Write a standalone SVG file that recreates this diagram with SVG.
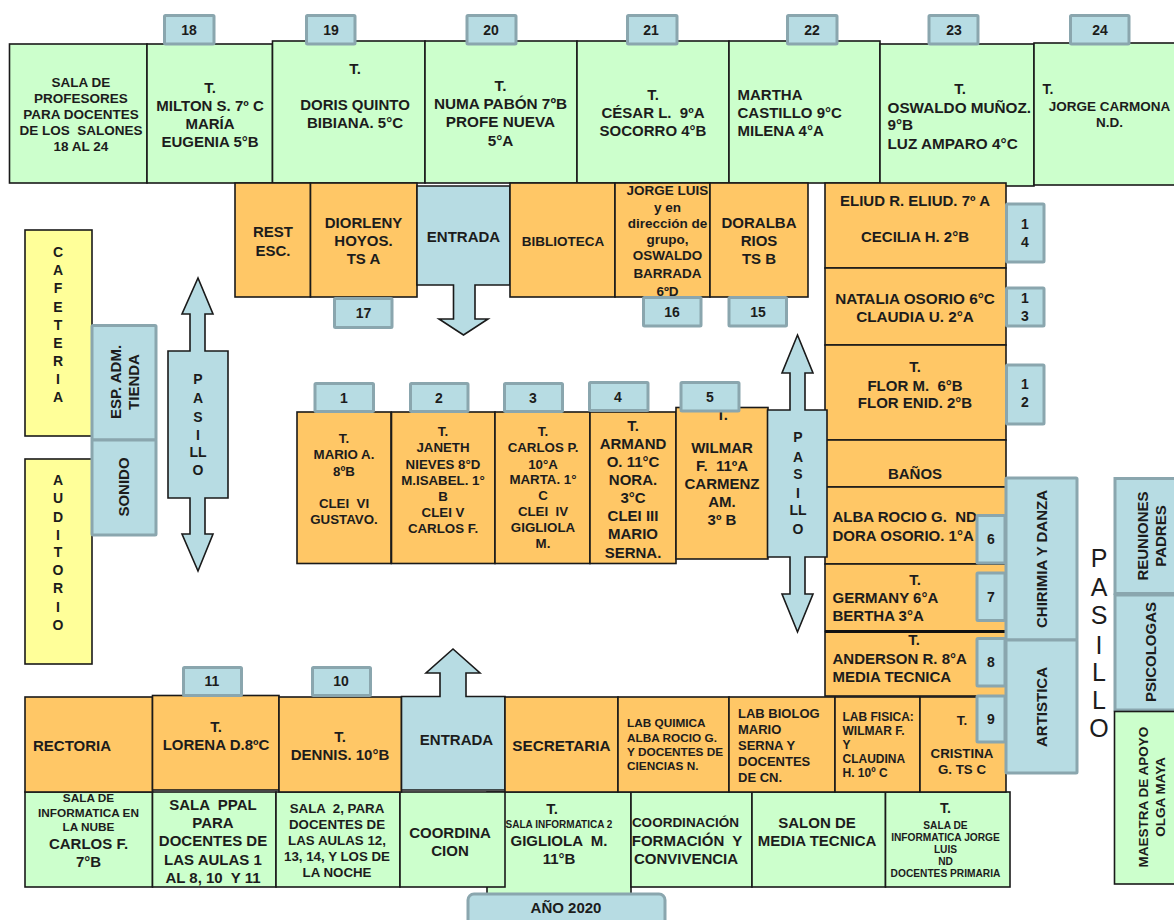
<svg xmlns="http://www.w3.org/2000/svg" width="1174" height="920" viewBox="0 0 1174 920">
<style>
text{font-family:"Liberation Sans",Arial,sans-serif;font-weight:bold;fill:#1c1c1c;dominant-baseline:central;white-space:pre}
.m{text-anchor:middle}
.g{fill:#ccffcc;stroke:#1a1a1a;stroke-width:1.6}
.o{fill:#ffc766;stroke:#1a1a1a;stroke-width:1.6}
.b{fill:#b7dce3;stroke:#1a1a1a;stroke-width:1.6}
.y{fill:#ffff99;stroke:#1a1a1a;stroke-width:1.6}
.tab{fill:#b7dce3;stroke:#8aa6ae;stroke-width:3}
.s10{font-size:10px}.s102{font-size:10.2px}.s118{font-size:11.8px}.s12{font-size:12px}.s13{font-size:13px}.s133{font-size:13.3px}.s135{font-size:13.5px}.s14{font-size:14px}.s15{font-size:15px}.s153{font-size:15.3px}
.big{font-size:25px;font-weight:normal}
</style>

<g id="sala-18-24"><rect class="g" x="9.5" y="44" width="137.5" height="139"/><text class="m s135"><tspan x="81" y="82">SALA DE</tspan><tspan x="81" y="98">PROFESORES</tspan><tspan x="81" y="114">PARA DOCENTES</tspan><tspan x="81" y="130">DE LOS  SALONES</tspan><tspan x="81" y="146">18 AL 24</tspan></text></g>
<g id="aula-18"><rect class="g" x="147" y="44" width="125.5" height="139"/><text class="m s15"><tspan x="210" y="87">T.</tspan><tspan x="210" y="105">MILTON S. 7º C</tspan><tspan x="210" y="123">MARÍA</tspan><tspan x="210" y="141">EUGENIA 5°B</tspan></text></g>
<g id="aula-19"><rect class="g" x="272.5" y="41" width="152.5" height="142"/><text class="m s15"><tspan x="355" y="68">T.</tspan><tspan x="355" y="104">DORIS QUINTO</tspan><tspan x="355" y="122">BIBIANA. 5°C</tspan></text></g>
<g id="aula-20"><rect class="g" x="425" y="41" width="152" height="142"/><text class="m s153"><tspan x="500.5" y="85">T.</tspan><tspan x="500.5" y="103">NUMA PABÓN 7ºB</tspan><tspan x="500.5" y="121">PROFE NUEVA</tspan><tspan x="500.5" y="140">5°A</tspan></text></g>
<g id="aula-21"><rect class="g" x="577" y="41" width="152" height="142"/><text class="m s15"><tspan x="653" y="94">T.</tspan><tspan x="653" y="112">CÉSAR L.  9ºA</tspan><tspan x="653" y="130">SOCORRO 4°B</tspan></text></g>
<g id="aula-22"><rect class="g" x="729" y="41" width="151" height="142"/><text class="s15"><tspan x="737.5" y="94">MARTHA</tspan><tspan x="737.5" y="112">CASTILLO 9°C</tspan><tspan x="737.5" y="130">MILENA 4°A</tspan></text></g>
<g id="aula-23"><rect class="g" x="880" y="44" width="154" height="142"/><text class="m s15" x="960" y="88">T.</text><text class="s153"><tspan x="887.5" y="107">OSWALDO MUÑOZ.</tspan><tspan x="887.5" y="124">9°B</tspan><tspan x="887.5" y="143">LUZ AMPARO 4°C</tspan></text></g>
<g id="aula-24"><rect class="g" x="1034" y="43" width="145" height="142"/><text class="s14" x="1042.5" y="89">T.</text><text class="m s135"><tspan x="1109.5" y="106">JORGE CARMONA</tspan><tspan x="1109.5" y="122">N.D.</tspan></text></g>

<g id="rest-esc"><rect class="o" x="235" y="183" width="75.5" height="114"/><text class="m s15"><tspan x="273" y="231">REST</tspan><tspan x="273" y="250">ESC.</tspan></text></g>
<g id="aula-17"><rect class="o" x="310.5" y="183" width="106.5" height="114"/><text class="m s15"><tspan x="363.5" y="222">DIORLENY</tspan><tspan x="363.5" y="240">HOYOS.</tspan><tspan x="363.5" y="258">TS A</tspan></text></g>
<g id="entrada-norte"><path class="b" d="M417 186H510V285H475V319H488L463.5 335L439 319H453.5V285H417Z"/><text class="m s15" x="463.5" y="236">ENTRADA</text></g>
<g id="biblioteca"><rect class="o" x="510" y="183" width="105" height="114"/><text class="m s135" x="563" y="241">BIBLIOTECA</text></g>
<g id="aula-16"><rect class="o" x="615" y="183" width="95" height="114"/><text class="m s135"><tspan x="667.5" y="190">JORGE LUIS</tspan><tspan x="667.5" y="207">y en</tspan><tspan x="667.5" y="223">dirección de</tspan><tspan x="667.5" y="239">grupo,</tspan><tspan x="667.5" y="255">OSWALDO</tspan><tspan x="667.5" y="273">BARRADA</tspan><tspan x="667.5" y="291">6ºD</tspan></text></g>
<g id="aula-15"><rect class="o" x="710" y="183" width="98" height="114"/><text class="m s15"><tspan x="759" y="222">DORALBA</tspan><tspan x="759" y="240">RIOS</tspan><tspan x="759" y="258">TS B</tspan></text></g>

<g id="aula-14"><rect class="o" x="825" y="183" width="181" height="85"/><text class="m s15"><tspan x="915" y="200">ELIUD R. ELIUD. 7º A</tspan><tspan x="915" y="236">CECILIA H. 2°B</tspan></text></g>
<g id="aula-13"><rect class="o" x="825" y="268" width="181" height="77"/><text class="m s153"><tspan x="915" y="298">NATALIA OSORIO 6°C</tspan><tspan x="915" y="316">CLAUDIA U. 2°A</tspan></text></g>
<g id="aula-12"><rect class="o" x="825" y="345" width="181" height="95"/><text class="m s15"><tspan x="915" y="366">T.</tspan><tspan x="915" y="385">FLOR M.  6°B</tspan><tspan x="915" y="402">FLOR ENID. 2°B</tspan></text></g>
<g id="banos"><rect class="o" x="825" y="440" width="181" height="47"/><text class="m s15" x="915" y="473">BAÑOS</text></g>
<g id="aula-6"><rect class="o" x="825" y="487" width="181" height="77"/><text class="s15"><tspan x="832.5" y="516">ALBA ROCIO G.  ND</tspan><tspan x="832.5" y="535">DORA OSORIO. 1°A</tspan></text></g>
<g id="aula-7"><rect class="o" x="825" y="564" width="181" height="67"/><text class="m s15" x="915" y="579">T.</text><text class="s15"><tspan x="832.5" y="597">GERMANY 6°A</tspan><tspan x="832.5" y="615">BERTHA 3°A</tspan></text></g>
<g id="aula-8"><rect class="o" x="825" y="632" width="181" height="64"/><path d="M825 631.5H1005" stroke="#111" stroke-width="3"/><text class="m s15" x="914" y="639">T.</text><text class="s15"><tspan x="832.5" y="658">ANDERSON R. 8°A</tspan><tspan x="832.5" y="676">MEDIA TECNICA</tspan></text></g>

<g id="cafeteria"><rect class="y" x="25" y="230" width="67" height="206"/><text class="m s14"><tspan x="58" y="252">C</tspan><tspan x="58" y="270">A</tspan><tspan x="58" y="288">F</tspan><tspan x="58" y="307">E</tspan><tspan x="58" y="325">T</tspan><tspan x="58" y="343">E</tspan><tspan x="58" y="361">R</tspan><tspan x="58" y="379">I</tspan><tspan x="58" y="397">A</tspan></text></g>
<g id="auditorio"><rect class="y" x="25" y="459" width="67" height="205"/><text class="m s14"><tspan x="58" y="480">A</tspan><tspan x="58" y="498">U</tspan><tspan x="58" y="517">D</tspan><tspan x="58" y="535">I</tspan><tspan x="58" y="552">T</tspan><tspan x="58" y="570">O</tspan><tspan x="58" y="588">R</tspan><tspan x="58" y="607">I</tspan><tspan x="58" y="625">O</tspan></text></g>
<g id="esp-adm"><rect class="tab" x="92" y="325.5" width="64" height="114.5" rx="1"/><text class="m s15" transform="rotate(-90 115 382)" x="115" y="382">ESP. ADM.</text><text class="m s15" transform="rotate(-90 133 382)" x="133" y="382">TIENDA</text></g>
<g id="sonido"><rect class="tab" x="92" y="440" width="64" height="95" rx="1"/><text class="m s15" transform="rotate(-90 123 487)" x="123" y="487">SONIDO</text></g>
<g id="pasillo-izq"><path class="b" d="M198 278L213 314H205V351H228V498H205V534H213L198 571L182 534H190V498H168V351H190V314H182Z"/><text class="m s14"><tspan x="198" y="379">P</tspan><tspan x="198" y="398">A</tspan><tspan x="198" y="417">S</tspan><tspan x="198" y="435">I</tspan><tspan x="198" y="452">LL</tspan><tspan x="198" y="470">O</tspan></text></g>

<g id="aula-1"><rect class="o" x="297" y="412" width="94" height="151.5"/><text class="m s133"><tspan x="344" y="438">T.</tspan><tspan x="344" y="454">MARIO A.</tspan><tspan x="344" y="471">8ºB</tspan><tspan x="344" y="503">CLEI  VI</tspan><tspan x="344" y="519">GUSTAVO.</tspan></text></g>
<g id="aula-2"><rect class="o" x="391.5" y="412" width="103.5" height="151.5"/><text class="m s133"><tspan x="443" y="431">T.</tspan><tspan x="443" y="447">JANETH</tspan><tspan x="443" y="464">NIEVES 8°D</tspan><tspan x="443" y="480">M.ISABEL. 1°</tspan><tspan x="443" y="496">B</tspan><tspan x="443" y="512">CLEI V</tspan><tspan x="443" y="528">CARLOS F.</tspan></text></g>
<g id="aula-3"><rect class="o" x="495" y="412" width="95" height="151.5"/><text class="m s133"><tspan x="543" y="431">T.</tspan><tspan x="543" y="447">CARLOS P.</tspan><tspan x="543" y="464">10°A</tspan><tspan x="543" y="479">MARTA. 1°</tspan><tspan x="543" y="495">C</tspan><tspan x="543" y="511">CLEI  IV</tspan><tspan x="543" y="527">GIGLIOLA</tspan><tspan x="543" y="543">M.</tspan></text></g>
<g id="aula-4"><rect class="o" x="590" y="412" width="86" height="151.5"/><text class="m s15"><tspan x="633" y="425">T.</tspan><tspan x="633" y="443">ARMAND</tspan><tspan x="633" y="461">O. 11°C</tspan><tspan x="633" y="479">NORA.</tspan><tspan x="633" y="497">3°C</tspan><tspan x="633" y="515">CLEI III</tspan><tspan x="633" y="533">MARIO</tspan><tspan x="633" y="552">SERNA.</tspan></text></g>
<g id="aula-5"><rect class="o" x="676" y="407.5" width="92" height="151.5"/><text class="m s15"><tspan x="722" y="414">T.</tspan><tspan x="722" y="447">WILMAR</tspan><tspan x="722" y="465">F.  11ºA</tspan><tspan x="722" y="483">CARMENZ</tspan><tspan x="722" y="501">AM.</tspan><tspan x="722" y="519">3º B</tspan></text></g>
<g id="pasillo-centro"><path class="b" d="M797.5 335L813 373H805V410H827V557H805V594H813L797.5 632L782 594H790V557H767.5V410H790V373H782Z"/><text class="m s14"><tspan x="798" y="437">P</tspan><tspan x="798" y="457">A</tspan><tspan x="798" y="474">S</tspan><tspan x="798" y="493">I</tspan><tspan x="798" y="510">LL</tspan><tspan x="798" y="529">O</tspan></text></g>

<g id="sala-informatica-nube"><rect class="g" x="25" y="792" width="127.5" height="95"/><text class="m s118"><tspan x="88.5" y="798">SALA DE</tspan><tspan x="88.5" y="813">INFORMATICA EN</tspan><tspan x="88.5" y="827">LA NUBE</tspan></text><text class="m s15"><tspan x="88.5" y="843">CARLOS F.</tspan><tspan x="88.5" y="861">7°B</tspan></text></g>
<g id="sala-ppal"><rect class="g" x="152.5" y="792" width="123.5" height="95"/><text class="m s15"><tspan x="213" y="804">SALA  PPAL</tspan><tspan x="213" y="822">PARA</tspan><tspan x="213" y="840">DOCENTES DE</tspan><tspan x="213" y="859">LAS AULAS 1</tspan><tspan x="213" y="877">AL 8, 10  Y 11</tspan></text></g>
<g id="sala-2"><rect class="g" x="276" y="792" width="124" height="95"/><text class="m s133"><tspan x="337" y="808">SALA  2, PARA</tspan><tspan x="337" y="824">DOCENTES DE</tspan><tspan x="337" y="840">LAS AULAS 12,</tspan><tspan x="337" y="856">13, 14, Y LOS DE</tspan><tspan x="337" y="872">LA NOCHE</tspan></text></g>
<g id="sala-informatica-2"><rect class="g" x="487" y="792" width="144" height="105"/><text class="m s15" x="552" y="808">T.</text><text class="m s10" x="559" y="824">SALA INFORMATICA 2</text><text class="m s15"><tspan x="559" y="840">GIGLIOLA  M.</tspan><tspan x="559" y="858">11°B</tspan></text></g>
<g id="coordinacion"><rect class="g" x="400" y="792" width="105" height="95"/><text class="m s15"><tspan x="450" y="832">COORDINA</tspan><tspan x="450" y="850">CION</tspan></text></g>
<g id="coordinacion-convivencia"><rect class="g" x="631" y="792" width="121" height="95"/><text class="m s135" x="685.5" y="822">COORDINACIÓN</text><text class="m s15"><tspan x="687" y="840">FORMACIÓN  Y</tspan><tspan x="686" y="858">CONVIVENCIA</tspan></text></g>
<g id="salon-media-tecnica"><rect class="g" x="752" y="792" width="133.5" height="95"/><text class="m s15"><tspan x="817" y="822">SALON DE</tspan><tspan x="817" y="840">MEDIA TECNICA</tspan></text></g>
<g id="sala-informatica-jorge"><rect class="g" x="885.5" y="792" width="124.5" height="95"/><text class="m s14" x="945.5" y="808">T.</text><text class="m s102"><tspan x="945.5" y="825">SALA DE</tspan><tspan x="945.5" y="837">INFORMATICA JORGE</tspan><tspan x="945.5" y="849">LUIS</tspan><tspan x="945.5" y="861">ND</tspan><tspan x="945.5" y="873">DOCENTES PRIMARIA</tspan></text></g>

<g id="rectoria"><rect class="o" x="25" y="697" width="127.5" height="95"/><text class="s15" x="33" y="745">RECTORIA</text></g>
<g id="aula-11"><rect class="o" x="152.5" y="695.5" width="126.5" height="94.5"/><text class="m s15"><tspan x="216" y="726">T.</tspan><tspan x="216" y="744">LORENA D.8ºC</tspan></text></g>
<g id="aula-10"><rect class="o" x="279" y="697" width="122.5" height="95"/><text class="m s15"><tspan x="340" y="736">T.</tspan><tspan x="340" y="754">DENNIS. 10°B</tspan></text></g>
<g id="entrada-sur"><path class="b" d="M401.5 696.5H440V673H426L453 649L480 673H466V696.5H505V790H401.5Z"/><text class="m s15" x="456.5" y="739">ENTRADA</text></g>
<g id="secretaria"><rect class="o" x="505" y="697" width="113" height="95"/><text class="m s153" x="561.5" y="745">SECRETARIA</text></g>
<g id="lab-quimica"><rect class="o" x="618" y="697" width="111" height="95"/><text class="s118"><tspan x="627" y="723">LAB QUIMICA</tspan><tspan x="627" y="738">ALBA ROCIO G.</tspan><tspan x="627" y="752">Y DOCENTES DE</tspan><tspan x="627" y="766">CIENCIAS N.</tspan></text></g>
<g id="lab-biolog"><rect class="o" x="729" y="697" width="106" height="95"/><text class="s13"><tspan x="738" y="713">LAB BIOLOG</tspan><tspan x="738" y="729">MARIO</tspan><tspan x="738" y="745">SERNA Y</tspan><tspan x="738" y="761">DOCENTES</tspan><tspan x="738" y="777">DE CN.</tspan></text></g>
<g id="lab-fisica"><rect class="o" x="835" y="697" width="85" height="95"/><text class="s12"><tspan x="842.5" y="717">LAB FISICA:</tspan><tspan x="842.5" y="731">WILMAR F.</tspan><tspan x="842.5" y="745">Y</tspan><tspan x="842.5" y="759">CLAUDINA</tspan><tspan x="842.5" y="773">H. 10º C</tspan></text></g>
<g id="aula-9"><rect class="o" x="920" y="697" width="86" height="95"/><text class="m s133"><tspan x="962" y="720">T.</tspan><tspan x="962" y="753">CRISTINA</tspan><tspan x="962" y="769">G. TS C</tspan></text></g>

<g id="chirimia"><rect class="tab" x="1006" y="478" width="71" height="162" rx="1"/><text class="m s15" transform="rotate(-90 1041 559)" x="1041" y="559">CHIRIMIA Y DANZA</text></g>
<g id="artistica"><rect class="tab" x="1006" y="640" width="71" height="133" rx="1"/><text class="m s15" transform="rotate(-90 1041 707)" x="1041" y="707">ARTISTICA</text></g>
<g id="pasillo-der"><text class="m big"><tspan x="1099" y="558">P</tspan><tspan x="1099" y="587">A</tspan><tspan x="1099" y="615">S</tspan><tspan x="1099" y="645">I</tspan><tspan x="1099" y="672">L</tspan><tspan x="1099" y="700">L</tspan><tspan x="1099" y="728">O</tspan></text></g>
<g id="reuniones"><rect class="tab" x="1115" y="478.5" width="65" height="115"/><text class="m s15" transform="rotate(-90 1142 536)" x="1142" y="536">REUNIONES</text><text class="m s15" transform="rotate(-90 1160 536)" x="1160" y="536">PADRES</text></g>
<g id="psicologas"><rect class="tab" x="1115" y="595" width="65" height="115"/><text class="m s15" transform="rotate(-90 1150 652)" x="1150" y="652">PSICOLOGAS</text></g>
<g id="maestra-apoyo"><rect class="g" x="1114.5" y="711.5" width="65" height="172.5"/><text class="m s135" transform="rotate(-90 1143 797)" x="1143" y="797">MAESTRA DE APOYO</text><text class="m s135" transform="rotate(-90 1160 797)" x="1160" y="797">OLGA MAYA</text></g>

<g id="rotulos">
<rect class="tab" x="164.5" y="15.5" width="49.5" height="28.5" rx="1"/><text class="m s14" x="189" y="30">18</text>
<rect class="tab" x="306.5" y="15.5" width="48.5" height="28.5" rx="1"/><text class="m s14" x="331" y="30">19</text>
<rect class="tab" x="467" y="15.5" width="49" height="28.5" rx="1"/><text class="m s14" x="491" y="30">20</text>
<rect class="tab" x="627.5" y="15.5" width="49.5" height="28.5" rx="1"/><text class="m s14" x="651" y="30">21</text>
<rect class="tab" x="787.5" y="15.5" width="49.5" height="28.5" rx="1"/><text class="m s14" x="812" y="30">22</text>
<rect class="tab" x="929" y="15.5" width="49" height="28.5" rx="1"/><text class="m s14" x="954" y="30">23</text>
<rect class="tab" x="1070.5" y="15.5" width="58.5" height="28.5" rx="1"/><text class="m s14" x="1100" y="30">24</text>
<rect class="tab" x="334.5" y="298.5" width="57.5" height="29" rx="1"/><text class="m s14" x="363.5" y="313">17</text>
<rect class="tab" x="643.5" y="297.5" width="57.5" height="28.5" rx="1"/><text class="m s14" x="672" y="312">16</text>
<rect class="tab" x="729" y="297.5" width="57.5" height="28.5" rx="1"/><text class="m s14" x="758" y="312">15</text>
<rect class="tab" x="1006.5" y="204" width="37.5" height="58" rx="1"/><text class="m s14"><tspan x="1025" y="224">1</tspan><tspan x="1025" y="242">4</tspan></text>
<rect class="tab" x="1006.5" y="288" width="37.5" height="38" rx="1"/><text class="m s14"><tspan x="1025" y="298">1</tspan><tspan x="1025" y="316">3</tspan></text>
<rect class="tab" x="1006.5" y="365" width="37.5" height="59" rx="1"/><text class="m s14"><tspan x="1025" y="384">1</tspan><tspan x="1025" y="402">2</tspan></text>
<rect class="tab" x="315" y="383.5" width="58.5" height="28" rx="1"/><text class="m s14" x="344" y="398">1</text>
<rect class="tab" x="410.5" y="383.5" width="57.5" height="28" rx="1"/><text class="m s14" x="439" y="398">2</text>
<rect class="tab" x="504.5" y="383.5" width="58" height="28" rx="1"/><text class="m s14" x="533" y="398">3</text>
<rect class="tab" x="589.5" y="382.5" width="58.5" height="28" rx="1"/><text class="m s14" x="618" y="397">4</text>
<rect class="tab" x="681" y="382.5" width="58" height="28.5" rx="1"/><text class="m s14" x="710" y="397">5</text>
<rect class="tab" x="977" y="515.5" width="28" height="47.5" rx="1"/><text class="m s14" x="991" y="539">6</text>
<rect class="tab" x="977" y="573" width="28" height="47.5" rx="1"/><text class="m s14" x="991" y="597">7</text>
<rect class="tab" x="977" y="638.5" width="28" height="47.5" rx="1"/><text class="m s14" x="991" y="662">8</text>
<rect class="tab" x="977" y="696" width="28" height="46" rx="1"/><text class="m s14" x="991" y="719">9</text>
<rect class="tab" x="183.5" y="667.5" width="58" height="28" rx="1"/><text class="m s14" x="212" y="681">11</text>
<rect class="tab" x="312.5" y="667.5" width="58" height="28" rx="1"/><text class="m s14" x="341" y="681">10</text>
</g>
<g id="anio"><rect class="tab" x="468" y="894" width="197" height="32" rx="6"/><text class="m s15" x="566" y="907">AÑO 2020</text></g>
</svg>
